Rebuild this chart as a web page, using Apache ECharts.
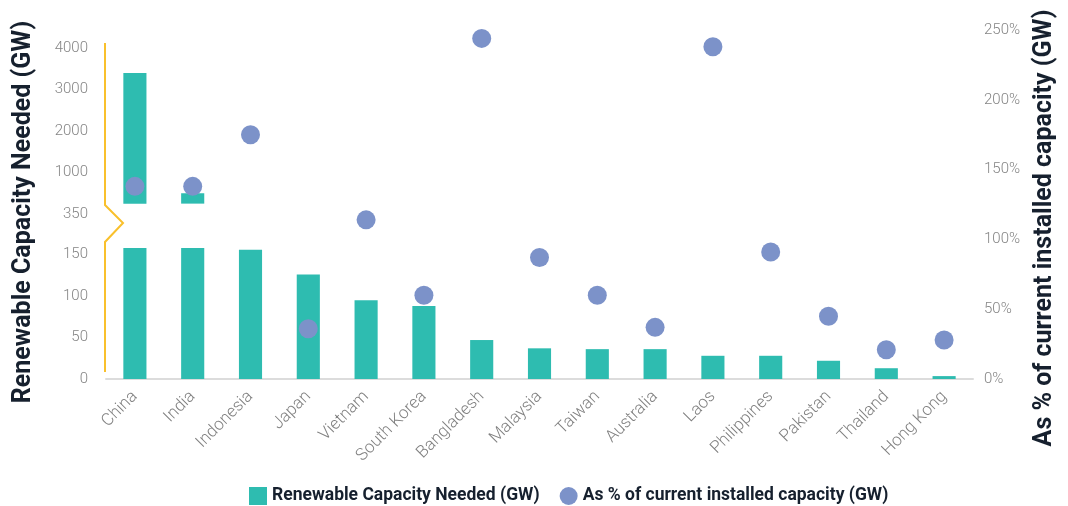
<!DOCTYPE html>
<html>
<head>
<meta charset="utf-8">
<script src="https://cdn.jsdelivr.net/npm/echarts@6/dist/echarts.min.js"></script>
<style>html,body{margin:0;padding:0;background:#fff}#c{width:1068px;height:506px}</style>
</head>
<body>
<div id="c"></div>
<script>
const categories = ['China','India','Indonesia','Japan','Vietnam','South Korea','Bangladesh','Malaysia','Taiwan','Australia','Laos','Philippines','Pakistan','Thailand','Hong Kong'];
const renewableGW = [3400, 500, 156, 126, 95, 88, 47, 37, 36, 36, 28, 28, 22, 13, 3.5];
const pctInstalled = [138, 138, 175, 36, 114, 60, 244, 87, 60, 37, 238, 91, 45, 21, 28];
const lowerTickLabels = ['0','50','100','150'];
const upperTickLabels = ['350','1000','2000','3000','4000'];
const pctTickLabels = ['0%','50%','100%','150%','200%','250%'];

const LOWER_MAX = 158;   // lower panel cut-off
const BREAK_BASE = 250;  // upper panel bars start here

const barName = 'Renewable Capacity Needed (GW)';
const dotName = 'As % of current installed capacity (GW)';
const barColor = '#2ebcb0';
const dotColor = '#7c92c9';
const tickColor = '#858585';
const titleColor = '#16202e';
const font = 'Roboto';

const upperBase = renewableGW.map(v => v > LOWER_MAX ? BREAK_BASE : '-');
const upperVis = renewableGW.map(v => v > LOWER_MAX ? v - BREAK_BASE : '-');

const chart = echarts.init(document.getElementById('c'), null, {renderer: 'canvas'});
const gridL = 106, gridW = 867;
chart.setOption({
  animation: false,
  textStyle: {fontFamily: font},
  grid: [
    {left: gridL, width: gridW, top: 248, bottom: 127},
    {left: gridL, width: gridW, top: 48, height: 166},
    {left: gridL, width: gridW, top: 30, bottom: 127}
  ],
  legend: {
    left: 244, top: 482,
    itemWidth: 18, itemHeight: 18, itemGap: 20,
    data: [{name: barName, icon: 'rect'}, {name: dotName, icon: 'circle'}],
    textStyle: {fontFamily: font, fontWeight: 'bold', fontSize: 17.5, color: titleColor}
  },
  xAxis: [
    {type: 'category', gridIndex: 0, data: categories,
     axisLine: {show: true, lineStyle: {color: '#dcdcdc', width: 2}},
     axisTick: {show: false},
     axisLabel: {rotate: 45, interval: 0, margin: 15, fontSize: 17, color: '#808080', fontFamily: font, fontWeight: 300}},
    {type: 'category', gridIndex: 1, data: categories, show: false},
    {type: 'category', gridIndex: 2, data: categories, show: false}
  ],
  yAxis: [
    {type: 'value', gridIndex: 0, min: 0, max: LOWER_MAX, interval: 50,
     axisLine: {show: false}, axisTick: {show: false}, splitLine: {show: false},
     axisLabel: {showMaxLabel: false, margin: 18, fontSize: 15, color: tickColor, fontFamily: font, fontWeight: 300,
       formatter: v => lowerTickLabels[Math.round(v / 50)] ?? ''}},
    {type: 'value', gridIndex: 1, min: 0, max: 4000, interval: 1000,
     axisLine: {show: false}, axisTick: {show: false}, splitLine: {show: false},
     axisLabel: {margin: 18, fontSize: 15, color: tickColor, fontFamily: font, fontWeight: 300,
       formatter: v => upperTickLabels[Math.round(v / 1000)] ?? ''}},
    {type: 'value', gridIndex: 2, position: 'right', min: 0, max: 250, interval: 50,
     axisLine: {show: false}, axisTick: {show: false}, splitLine: {show: false},
     axisLabel: {margin: 11, fontSize: 15, color: tickColor, fontFamily: font, fontWeight: 300,
       formatter: v => pctTickLabels[Math.round(v / 50)] ?? ''}}
  ],
  series: [
    {name: barName, type: 'bar', xAxisIndex: 0, yAxisIndex: 0, data: renewableGW,
     barWidth: '40%', clip: true, itemStyle: {color: barColor}},
    {name: 'base', type: 'bar', xAxisIndex: 1, yAxisIndex: 1, stack: 'up', data: upperBase,
     barWidth: '40%', itemStyle: {color: 'rgba(0,0,0,0)'}, silent: true},
    {name: barName, type: 'bar', xAxisIndex: 1, yAxisIndex: 1, stack: 'up', data: upperVis,
     barWidth: '40%', itemStyle: {color: barColor}},
    {name: dotName, type: 'scatter', xAxisIndex: 2, yAxisIndex: 2, data: pctInstalled,
     symbolSize: 19, itemStyle: {color: dotColor, opacity: 1}, z: 5}
  ],
  graphic: [
    {type: 'polyline', shape: {points: [[105,43],[105,205],[123,223],[105,242],[105,372]]},
     style: {stroke: '#f9c02c', lineWidth: 2, fill: null}},
    {type: 'text', x: 24, y: 212, rotation: Math.PI / 2,
     style: {text: barName, fontFamily: font, fontWeight: 'bold', fontSize: 25, fill: titleColor,
       align: 'center', verticalAlign: 'middle'}},
    {type: 'text', x: 1045, y: 228, rotation: Math.PI / 2,
     style: {text: dotName, fontFamily: font, fontWeight: 'bold', fontSize: 25, fill: titleColor,
       align: 'center', verticalAlign: 'middle'}}
  ]
});
</script>
</body>
</html>
